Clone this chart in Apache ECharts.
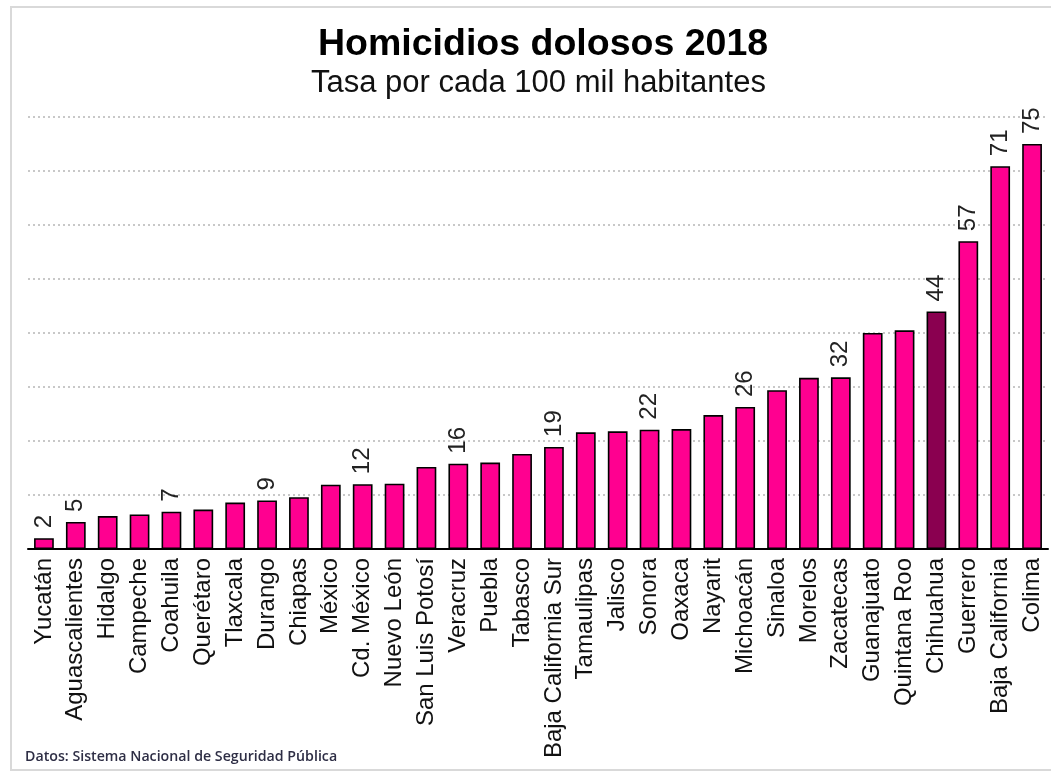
<!DOCTYPE html>
<html>
<head>
<meta charset="utf-8">
<script src="https://cdn.jsdelivr.net/npm/echarts@6/dist/echarts.min.js"></script>
<style>html,body{margin:0;padding:0;background:#fff;}#c{width:1051px;height:771px;}</style>
</head>
<body>
<div id="c"></div>
<script>
var states = ["Yucatán","Aguascalientes","Hidalgo","Campeche","Coahuila","Querétaro","Tlaxcala","Durango","Chiapas","México","Cd. México","Nuevo León","San Luis Potosí","Veracruz","Puebla","Tabasco","Baja California Sur","Tamaulipas","Jalisco","Sonora","Oaxaca","Nayarit","Michoacán","Sinaloa","Morelos","Zacatecas","Guanajuato","Quintana Roo","Chihuahua","Guerrero","Baja California","Colima"];
var rates = [2.0,5.0,6.1,6.4,6.9,7.3,8.6,9.0,9.6,11.9,12.0,12.1,15.2,15.8,16.0,17.6,18.9,21.6,21.8,22.1,22.2,24.8,26.3,29.4,31.7,31.8,40.0,40.5,44.0,57.0,70.9,75.0];
var labeledStates = ["Yucatán","Aguascalientes","Coahuila","Durango","Cd. México","Veracruz","Baja California Sur","Sonora","Michoacán","Zacatecas","Chihuahua","Guerrero","Baja California","Colima"];
var highlightState = "Chihuahua";
var yTicks = [0,10,20,30,40,50,60,70,80];

var PINK = "#ff0090", DARK = "#8a0050";
var seriesData = states.map(function(s, i){
  return {
    value: rates[i],
    itemStyle: {color: s === highlightState ? DARK : PINK},
    label: {show: labeledStates.indexOf(s) >= 0}
  };
});

var chart = echarts.init(document.getElementById('c'));
chart.setOption({
  animation: false,
  backgroundColor: '#fff',
  title: [
    {text: 'Homicidios dolosos 2018', left: 313, top: 21,
     textStyle: {fontFamily: 'Liberation Sans', fontSize: 37.5, fontWeight: 'bold', color: '#000'}},
    {text: 'Tasa por cada 100 mil habitantes', left: 306, top: 63,
     textStyle: {fontFamily: 'Liberation Sans', fontSize: 31, fontWeight: 'normal', color: '#111'}}
  ],
  graphic: [
    {type: 'rect', shape: {x: 11, y: 7, width: 1060, height: 763},
     style: {fill: 'none', stroke: '#d9d9d9', lineWidth: 2}, silent: true},
    {type: 'text', left: 25, top: 750,
     style: {text: 'Datos: Sistema Nacional de Seguridad Pública', font: '600 14.2px "Open Sans"', fill: '#2e2e45'}}
  ],
  grid: {left: 28, right: 3, top: 117, bottom: 222, containLabel: false},
  xAxis: {
    type: 'category', data: states,
    axisLine: {lineStyle: {color: '#000', width: 2}},
    axisTick: {show: false},
    axisLabel: {rotate: 90, interval: 0, margin: 9, fontFamily: 'Liberation Sans', fontSize: 24, color: '#111'}
  },
  yAxis: {
    type: 'value', min: yTicks[0], max: yTicks[yTicks.length-1], interval: 10,
    axisLine: {show: false}, axisTick: {show: false}, axisLabel: {show: false},
    splitLine: {lineStyle: {color: '#c8c8c8', width: 2, type: [2, 3]}}
  },
  series: [{
    type: 'bar', data: seriesData, barCategoryGap: '38%',
    itemStyle: {borderColor: '#000', borderWidth: 1.6},
    label: {position: 'top', rotate: 90, align: 'left', verticalAlign: 'middle', distance: 10,
      fontFamily: 'Liberation Sans', fontSize: 24, color: '#222',
      formatter: function(p){ return Math.round(p.value); }}
  }]
});
</script>
</body>
</html>
